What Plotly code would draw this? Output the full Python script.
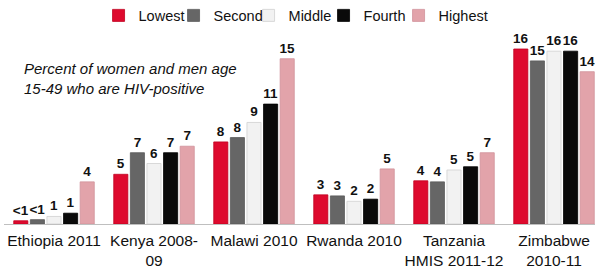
import plotly.graph_objects as go

categories = ["Ethiopia 2011", "Kenya 2008-<br>09", "Malawi 2010", "Rwanda 2010",
              "Tanzania<br>HMIS 2011-12", "Zimbabwe<br>2010-11"]
series_names = ["Lowest", "Second", "Middle", "Fourth", "Highest"]
lowest = [0.3, 4.6, 7.6, 2.7, 4.0, 16.2]
second = [0.4, 6.6, 8.0, 2.6, 3.9, 15.1]
middle = [0.7, 5.6, 9.4, 2.1, 5.0, 16.0]
fourth = [1.0, 6.6, 11.1, 2.3, 5.3, 16.0]
highest = [3.9, 7.2, 15.3, 5.1, 6.6, 14.1]
labels_lowest = ["<1", "5", "8", "3", "4", "16"]
labels_second = ["<1", "7", "8", "3", "4", "15"]
labels_middle = ["1", "6", "9", "2", "5", "16"]
labels_fourth = ["1", "7", "11", "2", "5", "16"]
labels_highest = ["4", "7", "15", "5", "7", "14"]

values = [lowest, second, middle, fourth, highest]
labels = [labels_lowest, labels_second, labels_middle, labels_fourth, labels_highest]
colors = ["#DE0A2E", "#666666", "#F2F2F2", "#0A0A0A", "#E2A3AA"]
borders = ["#C0001F", "#5A5A5A", "#D0D0D0", "#000000", "#D0929A"]

fig = go.Figure()
for name, v, lab, c, b in zip(series_names, values, labels, colors, borders):
    fig.add_trace(go.Bar(
        x=list(range(len(categories))), y=v, name=name,
        text=lab, textposition="outside", cliponaxis=False, constraintext="none",
        textfont=dict(family="Liberation Sans, Arial", size=13.5, color="#111111", weight="bold"),
        marker=dict(color=c, line=dict(color=b, width=0.8)),
    ))
# empty legend spacer (scatter, so it takes no bar slot) keeps the last legend label unclipped
fig.add_trace(go.Scatter(x=[None], y=[None], name=" ", mode="markers",
                         marker=dict(color="rgba(0,0,0,0)", size=1), hoverinfo="skip"))

fig.update_layout(
    width=595, height=268,
    margin=dict(l=4, r=0, t=30, b=44, autoexpand=False),
    paper_bgcolor="white", plot_bgcolor="white",
    barmode="group", bargap=0.17, bargroupgap=0.15,
    font=dict(family="Liberation Sans, Arial", size=15, color="#111111"),
    showlegend=True,
    legend=dict(orientation="h", x=0.16, xanchor="left", y=1.075, yanchor="middle",
                font=dict(size=14.5, color="#111111"), entrywidth=30,
                itemwidth=30, bgcolor="rgba(0,0,0,0)"),
    xaxis=dict(range=[-0.5, 5.41], tickmode="array", automargin=False,
               tickvals=list(range(len(categories))), ticktext=categories,
               showline=True, linecolor="#BFBFBF", linewidth=1, ticks="",
               showgrid=False, zeroline=False, tickfont=dict(size=15.5),
               ticklabelstandoff=2),
    yaxis=dict(range=[0, 17.96], visible=False, showgrid=False, zeroline=False,
               automargin=False),
    annotations=[dict(text="<i>Percent of women and men age<br>15-49 who are HIV-positive</i>",
                      xref="paper", yref="paper", x=0.03, y=0.748, xanchor="left", yanchor="middle",
                      showarrow=False, align="left",
                      font=dict(size=15, color="#111111"))],
)

fig.write_html("out.html", config={"displayModeBar": False},
               post_script="document.body.style.margin='0';")
